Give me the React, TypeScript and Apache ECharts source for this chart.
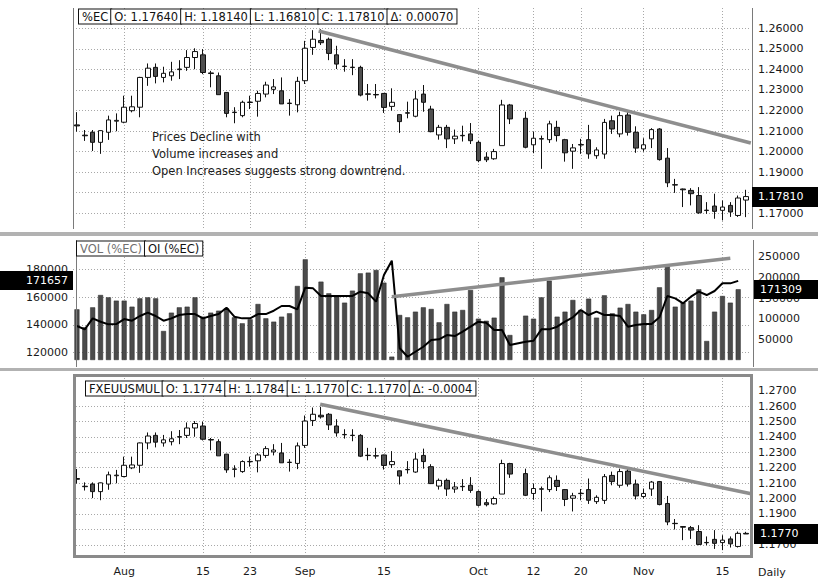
import React, { useEffect, useRef } from "react";
import * as echarts from "echarts";

const FONT = '"DejaVu Sans", Verdana, sans-serif';
const TXT = "#1a1a1a";
const GRIDC = "#a8a8a8";

// ---- daily EC candles (slot 56 = no trading) ----
const opens = [
  1.2130, 1.2080, 1.2094, 1.2045, 1.2094, 1.2148, 1.2143, 1.2199, 1.2216, 1.2361,
  1.2410, 1.2361, 1.2369, 1.2399, 1.2410, 1.2458, 1.2471, 1.2383, 1.2369, 1.2288,
  1.2192, 1.2175, 1.2239, 1.2245, 1.2280, 1.2303, 1.2296, 1.2236, 1.2228, 1.2345,
  1.2507, 1.2541, 1.2547, 1.2471, 1.2416, 1.2411, 1.2410, 1.2281, 1.2278, 1.2283,
  1.2220, 1.2180, 1.2189, 1.2172, 1.2280, 1.2207, 1.2081, 1.2118, 1.2062, 1.2079,
  1.2086, 1.2045, 1.1973, 1.1965, 1.2029, 1.2227, null, 1.2162, 1.2033, 1.2063,
  1.2058, 1.2118, 1.2058, 1.2002, 1.2034, 1.2058, 1.1980, 1.1988, 1.2150, 1.2086,
  1.2178, 1.2094, 1.2013, 1.2062, 1.2110, 1.1968, 1.1839, 1.1818, 1.1811, 1.1786,
  1.1715, 1.1735, 1.1714, 1.1738, 1.1689, 1.1764,
];
const closes = [
  1.2125, 1.2077, 1.2045, 1.2102, 1.2154, 1.2152, 1.2216, 1.2218, 1.2361, 1.2406,
  1.2366, 1.2381, 1.2388, 1.2402, 1.2458, 1.2487, 1.2385, 1.2380, 1.2277, 1.2186,
  1.2190, 1.2240, 1.2241, 1.2283, 1.2324, 1.2315, 1.2232, 1.2234, 1.2342, 1.2503,
  1.2547, 1.2530, 1.2478, 1.2426, 1.2414, 1.2409, 1.2275, 1.2279, 1.2276, 1.2215,
  1.2240, 1.2146, 1.2187, 1.2256, 1.2240, 1.2097, 1.2118, 1.2062, 1.2075, 1.2077,
  1.2053, 1.1956, 1.1960, 1.2000, 1.2227, 1.2159, null, 1.2021, 1.2065, 1.2061,
  1.2135, 1.2078, 1.1994, 1.2018, 1.2032, 1.1989, 1.2008, 1.2142, 1.2110, 1.2175,
  1.2094, 1.2017, 1.2033, 1.2107, 1.1961, 1.1848, 1.1837, 1.1814, 1.1795, 1.1702,
  1.1713, 1.1709, 1.1730, 1.1706, 1.1774, 1.1781,
];
const highs = [
  1.2192, 1.2105, 1.2105, 1.2104, 1.2175, 1.2186, 1.2272, 1.2272, 1.2364, 1.2429,
  1.2429, 1.2413, 1.2437, 1.2445, 1.2494, 1.2503, 1.2499, 1.2393, 1.2385, 1.2290,
  1.2216, 1.2248, 1.2272, 1.2296, 1.2340, 1.2353, 1.2361, 1.2256, 1.2364, 1.2539,
  1.2591, 1.2596, 1.2555, 1.2515, 1.2450, 1.2450, 1.2418, 1.2329, 1.2329, 1.2285,
  1.2308, 1.2182, 1.2243, 1.2296, 1.2324, 1.2223, 1.2130, 1.2130, 1.2107, 1.2126,
  1.2139, 1.2053, 1.1997, 1.2013, 1.2252, 1.2232, null, 1.2194, 1.2097, 1.2078,
  1.2150, 1.2150, 1.2062, 1.2037, 1.2062, 1.2130, 1.2021, 1.2159, 1.2175, 1.2194,
  1.2199, 1.2123, 1.2065, 1.2114, 1.2114, 1.2017, 1.1867, 1.1820, 1.1822, 1.1827,
  1.1754, 1.1795, 1.1762, 1.1754, 1.1786, 1.1814,
];
const lows = [
  1.2097, 1.2052, 1.2003, 1.1989, 1.2057, 1.2099, 1.2138, 1.2191, 1.2167, 1.2320,
  1.2332, 1.2337, 1.2345, 1.2353, 1.2393, 1.2401, 1.2377, 1.2313, 1.2277, 1.2167,
  1.2138, 1.2167, 1.2207, 1.2170, 1.2264, 1.2280, 1.2232, 1.2175, 1.2191, 1.2329,
  1.2471, 1.2519, 1.2445, 1.2402, 1.2389, 1.2372, 1.2269, 1.2248, 1.2259, 1.2188,
  1.2199, 1.2091, 1.2162, 1.2167, 1.2194, 1.2094, 1.2058, 1.2017, 1.2037, 1.2049,
  1.2037, 1.1948, 1.1949, 1.1960, 1.2029, 1.2134, null, 1.2016, 1.1992, 1.1916,
  1.2042, 1.2049, 1.1951, 1.1916, 1.1989, 1.1965, 1.1965, 1.1965, 1.2086, 1.2070,
  1.2078, 1.1994, 1.2000, 1.2017, 1.1956, 1.1827, 1.1799, 1.1730, 1.1738, 1.1697,
  1.1697, 1.1673, 1.1665, 1.1682, 1.1682, 1.1681,
];
// last candle of the FXEUUSMUL panel: open, high, low, close
const fxLastOHLC = [1.1774, 1.1784, 1.1770, 1.1770];

// ---- volume (right axis) and open interest (left axis) ----
const volume = [
  122700, 79100, 127500, 157400, 151700, 143700, 143700, 129100, 149300, 151700,
  149300, 70200, 114600, 127500, 129100, 151700, 104900, 114600, 119400, 125100,
  103300, 88800, 98500, 135600, 100900, 92800, 104900, 113000, 179200, 243700,
  null, 189700, 161400, 153300, 138800, 167900, 209800, 211500, 217900, 187300,
  8100, 109000, 103300, 117000, 127500, 123500, 91200, 135600, 117000, 121100,
  169500, 100000, 95000, 102500, 200200, 60500, null, 107300, 100000, 151700,
  192100, 104900, 117000, 145300, 121100, 148500, 102500, 156600, 113000, 126700,
  135600, 117000, 110600, 121100, 176000, 230000, 129100, 138800, 143700, 171100,
  46000, 117000, 155000, 138800, 171309, null,
];
const openInterest = [
  139200, 136800, 144700, 142300, 140400, 140600, 144200, 143000, 146400, 148800,
  146400, 143000, 144700, 147100, 147800, 147800, 144700, 146400, 147800, 152400,
  145900, 144700, 144700, 147800, 147800, 150200, 153600, 153600, 151200, 166800,
  166300, 160800, 160800, 160800, 160800, 160800, 163900, 162700, 156700, 175900,
  186200, 123200, 117100, 120700, 124300, 129100, 129600, 132700, 132000, 135100,
  138700, 142300, 141600, 136300, 136300, 125500, null, 127900, 128600, 136800,
  136800, 138700, 142300, 145500, 150700, 147100, 149500, 147100, 147100, 146400,
  138700, 139900, 140600, 140600, 145500, 160800, 159100, 155500, 160300, 163900,
  161500, 164400, 169900, 169900, 171657, null,
];

// ---- date labels (slot index -> text) ----
const labelSlots = [6, 16, 22, 29, 39, 51, 58, 64, 72, 82];
const labelTexts = ["Aug", "15", "23", "Sep", "15", "Oct", "12", "20", "Nov", "15"];

// ---- tick values ----
const topGridTicks = [1.17, 1.18, 1.19, 1.2, 1.21, 1.22, 1.23, 1.24, 1.25, 1.26];
const topPriceLabels = [1.17, 1.19, 1.2, 1.21, 1.22, 1.23, 1.24, 1.25, 1.26];
const botPriceLabels = [1.17, 1.19, 1.2, 1.21, 1.22, 1.23, 1.24, 1.25, 1.26, 1.27];
const botGridTicks = [1.165, 1.175, 1.185, 1.195, 1.205, 1.215, 1.225, 1.235, 1.245, 1.255, 1.265];
const oiTicks = [120000, 140000, 160000, 180000];
const volTicks = [50000, 100000, 150000, 200000, 250000];

// ---- hand-drawn trend lines (slot, value) ----
const topTrendX = [30.7, 85.6];
const topTrendY = [1.2587, 1.2042];
const midTrendX = [40.0, 83.0];
const midTrendY = [153300, 246300];
const botTrendX = [30.9, 85.8];
const botTrendY = [1.2612, 1.2030];

const N = opens.length;
const slots = opens.map((_, i) => String(i));

function gridMarks(hVals: number[], vVals: number[]) {
  return {
    silent: true,
    symbol: ["none", "none"],
    label: { show: false },
    z: 1,
    lineStyle: { color: GRIDC, type: [1, 2], width: 1 },
    emphasis: { disabled: true },
    data: [...hVals.map((v) => ({ yAxis: v })), ...vVals.map((v) => ({ xAxis: v }))],
  };
}

function buildOption(): any {
  const topData = opens.map((o, i) =>
    o == null ? ["-", "-", "-", "-"] : [o, closes[i], lows[i], highs[i]]
  );
  const botData = topData.slice();
  botData[N - 1] = [fxLastOHLC[0], fxLastOHLC[3], fxLastOHLC[2], fxLastOHLC[1]];

  const lbl = { color: TXT, fontFamily: FONT, fontSize: 11 };

  const catAxis = (gridIndex: number) => ({
    type: "category",
    gridIndex,
    data: slots,
    show: false,
    boundaryGap: true,
    position: "top",
  });
  const valXAxis = (gridIndex: number, showLabels: boolean) => ({
    type: "value",
    gridIndex,
    min: -0.5,
    max: N - 0.5,
    position: "bottom",
    axisLine: { show: false },
    axisTick: { show: false },
    axisLabel: showLabels
      ? {
          show: true,
          customValues: labelSlots,
          margin: 10,
          ...lbl,
          formatter: (v: number) => {
            const k = labelSlots.indexOf(Math.round(v));
            return k >= 0 ? labelTexts[k] : "";
          },
        }
      : { show: false },
    splitLine: { show: false },
  });

  const candleStyle = {
    color: "#ffffff",
    color0: "#4f4f4f",
    borderColor: "#111111",
    borderColor0: "#111111",
    borderWidth: 1,
  };
  const trendStyle = { color: "#8e8e8e", width: 3.5 };
  const yBase = { type: "value", axisLine: { show: false }, axisTick: { show: false }, splitLine: { show: false } };

  return {
    animation: false,
    backgroundColor: "#ffffff",
    grid: [
      { left: 73, top: 8, width: 677, height: 220 },
      { left: 73, top: 241, width: 677, height: 119 },
      { left: 73, top: 375, width: 677, height: 181 },
    ],
    xAxis: [
      catAxis(0),
      valXAxis(0, false),
      catAxis(1),
      valXAxis(1, false),
      catAxis(2),
      valXAxis(2, true),
    ],
    yAxis: [
      {
        ...yBase,
        gridIndex: 0,
        position: "right",
        min: 1.1628,
        max: 1.2699,
        axisLabel: { customValues: topPriceLabels, margin: 8, ...lbl, formatter: (v: number) => v.toFixed(5) },
      },
      {
        ...yBase,
        gridIndex: 1,
        position: "left",
        min: 114750,
        max: 200360,
        axisLabel: { customValues: oiTicks, margin: 5, ...lbl, formatter: (v: number) => String(Math.round(v)) },
      },
      {
        ...yBase,
        gridIndex: 1,
        position: "right",
        min: 0,
        max: 288100,
        axisLabel: { customValues: volTicks, margin: 8, ...lbl, formatter: (v: number) => String(Math.round(v)) },
      },
      {
        ...yBase,
        gridIndex: 2,
        position: "right",
        min: 1.1627,
        max: 1.2802,
        axisLabel: { customValues: botPriceLabels, margin: 8, ...lbl, formatter: (v: number) => v.toFixed(4) },
      },
    ],
    series: [
      {
        type: "line",
        xAxisIndex: 1,
        yAxisIndex: 0,
        data: topTrendX.map((x, i) => [x, topTrendY[i]]),
        symbol: "none",
        lineStyle: trendStyle,
        silent: true,
        z: 5,
        markLine: gridMarks(topGridTicks, labelSlots),
      },
      {
        type: "candlestick",
        xAxisIndex: 0,
        yAxisIndex: 0,
        data: topData,
        barWidth: 5,
        itemStyle: candleStyle,
        silent: true,
        z: 3,
      },
      {
        type: "line",
        xAxisIndex: 3,
        yAxisIndex: 2,
        data: midTrendX.map((x, i) => [x, midTrendY[i]]),
        symbol: "none",
        lineStyle: trendStyle,
        silent: true,
        z: 5,
        markLine: gridMarks([], labelSlots),
      },
      {
        type: "bar",
        xAxisIndex: 2,
        yAxisIndex: 2,
        data: volume.map((v) => (v == null ? "-" : v)),
        barWidth: 5,
        itemStyle: { color: "#4b4b4b", borderColor: "#262626", borderWidth: 0.5 },
        silent: true,
        z: 3,
      },
      {
        type: "line",
        xAxisIndex: 2,
        yAxisIndex: 1,
        data: openInterest.map((v) => (v == null ? "-" : v)),
        connectNulls: true,
        symbol: "none",
        lineStyle: { color: "#000000", width: 2 },
        silent: true,
        z: 4,
        markLine: gridMarks(oiTicks, []),
      },
      {
        type: "line",
        xAxisIndex: 5,
        yAxisIndex: 3,
        data: botTrendX.map((x, i) => [x, botTrendY[i]]),
        symbol: "none",
        lineStyle: trendStyle,
        silent: true,
        z: 5,
        markLine: gridMarks(botGridTicks, labelSlots),
      },
      {
        type: "candlestick",
        xAxisIndex: 4,
        yAxisIndex: 3,
        data: botData,
        barWidth: 5,
        itemStyle: candleStyle,
        silent: true,
        z: 3,
      },
    ],
  };
}

const HFONT = `11.5px ${FONT}`;

function header(x: number, y: number, parts: string[], colors: string[]) {
  const rich: any = {};
  parts.forEach((_, i) => {
    rich["b" + i] = {
      fill: colors[i] || "#111",
      font: HFONT,
      backgroundColor: "#ffffff",
      borderColor: "#111111",
      borderWidth: 1,
      padding: [1, 3, 1, 3],
      lineHeight: 13,
    };
  });
  return {
    type: "text",
    x,
    y,
    z: 100,
    silent: true,
    style: {
      text: parts.map((p, i) => `{b${i}|${p}}`).join(""),
      rich,
      font: HFONT,
    },
  };
}

function valueBox(x: number, yc: number, w: number, h: number, text: string, rightAlign: boolean) {
  return [
    { type: "rect", z: 110, silent: true, shape: { x, y: Math.round(yc - h / 2), width: w, height: h }, style: { fill: "#000" } },
    {
      type: "text",
      z: 111,
      silent: true,
      x: rightAlign ? x + w - 5 : x + 6,
      y: yc,
      style: {
        text,
        fill: "#ffffff",
        font: `11px ${FONT}`,
        align: rightAlign ? "right" : "left",
        verticalAlign: "middle",
      },
    },
  ];
}

export default function App() {
  const ref = useRef<HTMLDivElement>(null);
  useEffect(() => {
    document.body.style.margin = "0";
    const chart = echarts.init(ref.current!, null, { renderer: "svg", width: 818, height: 580 });
    chart.setOption(buildOption());

    const last = N - 1;
    const prevClose = closes[last - 1] as number;
    const lastClose = closes[last] as number;
    const topParts = [
      "%EC",
      "O: " + (opens[last] as number).toFixed(5),
      "H: " + (highs[last] as number).toFixed(5),
      "L: " + (lows[last] as number).toFixed(5),
      "C: " + lastClose.toFixed(5),
      "Δ: " + (lastClose - prevClose).toFixed(5),
    ];
    const botParts = [
      "FXEUUSMUL",
      "O: " + fxLastOHLC[0].toFixed(4),
      "H: " + fxLastOHLC[1].toFixed(4),
      "L: " + fxLastOHLC[2].toFixed(4),
      "C: " + fxLastOHLC[3].toFixed(4),
      "Δ: " + (fxLastOHLC[3] - prevClose).toFixed(4),
    ];
    const lastVolIdx = volume.length - 2;
    const lastVol = volume[lastVolIdx] as number;
    const lastOI = openInterest[lastVolIdx] as number;

    const yTop = chart.convertToPixel({ yAxisIndex: 0 }, lastClose) as number;
    const yOI = chart.convertToPixel({ yAxisIndex: 1 }, lastOI) as number;
    const yVol = chart.convertToPixel({ yAxisIndex: 2 }, lastVol) as number;
    const yBot = chart.convertToPixel({ yAxisIndex: 3 }, fxLastOHLC[3]) as number;

    const line = (x1: number, y1: number, x2: number, y2: number, color: string, w: number) => ({
      type: "line",
      z: 90,
      silent: true,
      shape: { x1, y1, x2, y2 },
      style: { stroke: color, lineWidth: w },
    });

    const graphic: any[] = [
      // panel frames
      line(73.5, 8, 73.5, 229, "#7a7a7a", 1),
      line(752.5, 8, 752.5, 229, "#7a7a7a", 1),
      { type: "rect", z: 90, silent: true, shape: { x: 0, y: 232, width: 818, height: 4 }, style: { fill: "#b2b2b2" } },
      line(76.5, 240, 76.5, 367, "#7a7a7a", 1),
      line(753.5, 240, 753.5, 367, "#7a7a7a", 1),
      { type: "rect", z: 90, silent: true, shape: { x: 0, y: 368, width: 818, height: 3 }, style: { fill: "#b2b2b2" } },
      {
        type: "rect",
        z: 90,
        silent: true,
        shape: { x: 74.5, y: 375.5, width: 677, height: 181 },
        style: { fill: "none", stroke: "#8a8a8a", lineWidth: 3 },
      },
      // headers
      header(79, 10, topParts, []),
      header(77, 242, ["VOL (%EC)", "OI (%EC)"], ["#707070", "#111"]),
      header(86, 382, botParts, []),
      // annotation
      {
        type: "text",
        x: 152,
        y: 128,
        z: 100,
        silent: true,
        style: {
          text: "Prices Decline with\nVolume increases and\nOpen Increases suggests strong downtrend.",
          fill: "#222",
          font: `11.5px ${FONT}`,
          lineHeight: 17,
        },
      },
      {
        type: "text",
        x: 758,
        y: 572,
        z: 100,
        silent: true,
        style: { text: "Daily", fill: TXT, font: `11px ${FONT}`, verticalAlign: "middle" },
      },
      ...valueBox(752, yTop, 66, 20, lastClose.toFixed(5), false),
      ...valueBox(754, yVol, 64, 19, String(lastVol), false),
      ...valueBox(0, yOI, 73, 19, String(lastOI), true),
      ...valueBox(754, yBot, 64, 20, fxLastOHLC[3].toFixed(4), false),
    ];
    chart.setOption({ graphic });
    return () => chart.dispose();
  }, []);
  return <div ref={ref} style={{ width: 818, height: 580 }} />;
}
